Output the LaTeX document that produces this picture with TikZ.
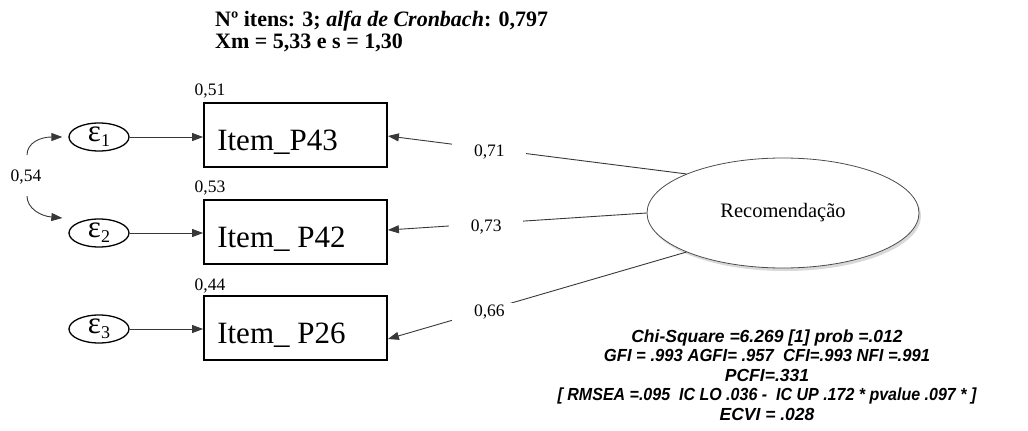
\documentclass[tikz,border=0pt]{standalone}
\usepackage{fontspec}
\setmainfont{Liberation Serif}
\newfontfamily\arialf{Liberation Sans}
\usetikzlibrary{arrows.meta,shapes.geometric,shadows}
\newcommand\myeps[1]{{\fontsize{31}{31}\selectfont ε\raisebox{-5pt}{\fontsize{18}{18}\selectfont #1}}}
\begin{document}
\begin{tikzpicture}[x=1pt,y=-1pt,
  every node/.style={inner sep=0pt},
  errnode/.style={draw, ellipse, line width=1.3pt, minimum width=60pt, minimum height=28pt},
  itembox/.style={draw, line width=1.8pt, minimum width=183pt, minimum height=64pt},
  itemtext/.style={font=\fontsize{31}{31}\selectfont, anchor=base west},
  small/.style={font=\fontsize{17.5}{17.5}\selectfont},
  conn/.style={draw=black!78, line width=0.9pt},
  tip/.style={-{Triangle[length=11pt,width=8pt]}},
  loadlbl/.style={fill=white, minimum width=74pt, minimum height=18pt, font=\fontsize{17.5}{17.5}\selectfont},
  latent/.style={draw=black!70, ellipse, line width=0.8pt, fill=white, minimum width=272pt, minimum height=110pt,
    font=\fontsize{20.5}{20.5}\selectfont, drop shadow={shadow xshift=2pt, shadow yshift=-3pt, opacity=0.3}},
  stats/.style={align=center, font=\arialf\bfseries\itshape\fontsize{17.5}{19.5}\selectfont},
  titlestyle/.style={align=left, anchor=base west, font=\bfseries\fontsize{22}{21.5}\selectfont}
]
\useasboundingbox (0,0) rectangle (1028,431);

% title
\node[titlestyle] (title) at (215,48) {Nº itens: 3; \textit{alfa de Cronbach}: 0,797\\Xm = 5,33 e s = 1,30};

% error terms
\node[errnode] (e1) at (99,137) {\myeps{1}};
\node[errnode] (e2) at (99,233) {\myeps{2}};
\node[errnode] (e3) at (99,329) {\myeps{3}};

% item boxes
\node[itembox] (r1) at (295.5,135) {};
\node[itembox] (r2) at (295.5,232) {};
\node[itembox] (r3) at (295.5,328) {};
\node[itemtext] (t1) at ([shift={(14pt,-15pt)}]r1.west) {Item\_P43};
\node[itemtext] (t2) at ([shift={(14pt,-15pt)}]r2.west) {Item\_ P42};
\node[itemtext] (t3) at ([shift={(14pt,-15pt)}]r3.west) {Item\_ P26};

% R-squared labels
\node[small] (q1) at (210,91) {0,51};
\node[small] (q2) at (210,188) {0,53};
\node[small] (q3) at (210,286) {0,44};

% covariance
\node[small] (cv) at (26,177) {0,54};
\coordinate (k1) at (27,155);
\coordinate (k2) at (27,196);
\draw[conn, -{Triangle[length=11pt,width=8pt]}] (k1) .. controls (27,143) and (40,137) .. ([xshift=-6pt]e1.west);
\draw[conn, -{Triangle[length=11pt,width=8pt]}] (k2) .. controls (27,208) and (40,216) .. ([shift={(-6pt,15pt)}]e2.west);

% error -> item
\draw[conn, tip] (e1.east) -- (e1.east -| r1.west);
\draw[conn, tip] (e2.east) -- (e2.east -| r2.west);
\draw[conn, tip] (e3.east) -- (e3.east -| r3.west);

% latent
\node[latent] (rec) at (783,213) {Recomendação};

% loadings
\draw[conn, tip] (rec.158) -- node[loadlbl, pos=0.66, yshift=-3pt] (l1) {0,71} ([yshift=-1pt]r1.east);
\draw[conn, tip] (rec.180) -- node[loadlbl, pos=0.62, yshift=-3pt] (l2) {0,73} ([yshift=2pt]r2.east);
\draw[conn, tip] (rec.202) -- node[loadlbl, pos=0.66, yshift=-3pt] (l3) {0,66} ([yshift=-11pt]r3.east);

% fit statistics
\node[stats] (fit) at (767,375) {Chi-Square =6.269 [1] prob =.012\\
\scalebox{0.95}[1]{GFI = .993 AGFI= .957\ \ CFI=.993 NFI =.991}\\
PCFI=.331\\
\scalebox{0.915}[1]{[ RMSEA =.095\ \ IC LO .036 -\ \ IC UP .172 * pvalue .097 * ]}\\
ECVI = .028};
\end{tikzpicture}
\end{document}
